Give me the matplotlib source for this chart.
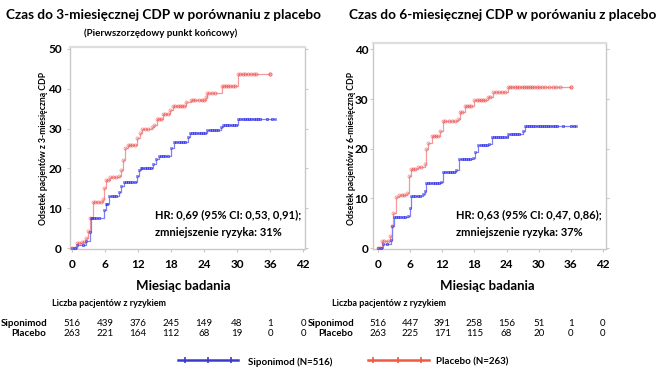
import numpy as np
import matplotlib
matplotlib.use("Agg")
import matplotlib.pyplot as plt
from matplotlib.lines import Line2D

plt.rcParams['font.family'] = ['Lato', 'DejaVu Sans']

# ---------------- data ----------------
# Left panel: 3-month CDP (step times in months, cumulative % with CDP)
l_sip_t = [0, 1.0, 2.5, 3.2, 3.4, 5.8, 6.1, 6.8, 8.5, 9.0, 9.4, 11.8, 12.2, 12.5, 14.8, 15.3, 15.8, 18.0, 18.6, 21.0, 21.4, 24.5, 27.0, 27.4, 30.2, 36.9]
l_sip_v = [0, 0.8, 1.8, 4.0, 7.6, 9.5, 11.0, 13.0, 14.0, 15.5, 16.5, 18.0, 19.5, 20.0, 21.0, 22.3, 23.0, 25.0, 26.7, 28.0, 29.0, 29.6, 30.5, 31.0, 32.5, 32.5]
l_pla_t = [0, 0.9, 1.8, 2.6, 3.0, 3.3, 3.8, 5.6, 5.9, 6.2, 7.0, 8.6, 9.0, 9.3, 9.7, 10.2, 11.9, 12.3, 12.7, 14.5, 14.9, 15.4, 16.5, 17.8, 18.4, 20.8, 21.6, 24.3, 24.6, 24.9, 27.2, 30.2, 36.0]
l_pla_v = [0, 1.2, 1.6, 2.5, 4.2, 7.5, 11.6, 12.2, 15.0, 17.2, 17.8, 18.2, 19.5, 22.0, 25.0, 25.9, 27.6, 29.0, 29.9, 30.5, 30.9, 32.5, 33.7, 34.6, 35.6, 36.6, 37.1, 38.0, 39.0, 39.0, 40.6, 43.8, 43.8]

# Right panel: 6-month CDP
r_sip_t = [0, 1.0, 2.5, 2.7, 3.0, 5.6, 5.9, 6.2, 8.4, 8.7, 9.0, 11.8, 12.1, 14.6, 15.1, 17.7, 18.2, 18.7, 20.8, 21.2, 24.3, 27.0, 27.4, 37.0]
r_sip_v = [0, 0.8, 1.6, 4.4, 6.3, 6.5, 8.0, 10.5, 10.8, 11.5, 13.0, 13.2, 15.3, 15.8, 18.0, 18.2, 19.3, 20.7, 21.0, 22.3, 23.0, 23.5, 24.5, 24.5]
r_pla_t = [0, 0.8, 2.2, 2.6, 2.8, 3.3, 4.0, 5.4, 5.8, 6.2, 7.5, 8.7, 9.0, 9.3, 10.0, 11.2, 11.5, 12.1, 15.0, 15.3, 16.2, 18.0, 20.5, 21.5, 24.3, 36.1]
r_pla_v = [0, 1.4, 2.5, 4.5, 7.0, 10.3, 10.7, 11.0, 14.6, 15.9, 16.3, 16.9, 19.9, 21.2, 22.5, 22.6, 23.6, 25.5, 26.0, 27.4, 28.6, 29.9, 30.5, 31.4, 32.5, 32.5]

# Censoring marks (months)
l_sip_c = [0.5, 2.0, 3.6, 4.0, 4.4, 5.0, 6.4, 7.2, 7.6, 8.0, 9.8, 10.2, 10.6, 11.0, 11.4, 12.8, 13.2, 13.6, 14.0, 14.4, 16.2, 16.6, 17.0, 17.4, 19.0, 19.4, 19.8, 20.2, 20.6, 21.8, 22.2, 22.6, 23.0, 23.4, 23.8, 24.2, 25.0, 25.4, 25.8, 26.2, 26.6, 27.8, 28.2, 28.6, 29.0, 29.4, 29.8, 30.6, 31.0, 31.4, 31.8, 32.2, 32.6, 33.0, 33.4, 33.8, 34.2, 35.5, 36.4]
l_pla_c = [0.5, 1.3, 2.2, 4.2, 4.8, 5.2, 6.6, 7.4, 8.0, 10.6, 11.0, 11.4, 13.2, 13.8, 15.8, 16.2, 17.0, 17.4, 18.8, 19.2, 19.6, 20.0, 20.4, 22.0, 22.4, 23.0, 23.6, 24.0, 25.4, 26.0, 27.6, 28.0, 28.4, 28.8, 29.2, 29.6, 30.6, 31.0, 31.5, 32.0, 32.6, 33.0, 33.5, 36.0]
r_sip_c = [0.5, 1.6, 3.3, 3.8, 4.2, 4.6, 5.0, 6.6, 7.0, 7.4, 7.8, 9.4, 9.8, 10.2, 10.6, 11.0, 11.4, 12.6, 13.0, 13.4, 13.8, 14.2, 15.6, 16.0, 16.4, 16.8, 17.2, 19.2, 19.6, 20.0, 20.4, 21.6, 22.0, 22.4, 22.8, 23.2, 23.6, 24.0, 24.8, 25.2, 25.6, 26.0, 26.4, 27.8, 28.2, 28.6, 29.0, 29.4, 29.8, 30.2, 30.6, 31.0, 31.4, 31.8, 32.2, 32.6, 33.0, 33.4, 34.5, 36.0, 36.6]
r_pla_c = [0.4, 1.2, 1.8, 4.4, 4.8, 6.6, 7.0, 8.0, 10.4, 10.8, 12.6, 13.2, 13.8, 14.4, 15.6, 16.6, 17.0, 17.4, 18.4, 18.8, 19.2, 19.6, 20.0, 21.0, 22.0, 22.6, 23.2, 23.8, 24.6, 25.0, 25.6, 26.0, 26.4, 26.8, 27.2, 27.6, 28.0, 28.4, 28.8, 29.2, 29.6, 30.0, 30.6, 31.2, 32.0, 32.6, 33.2, 34.0, 36.0]

x_ticks = [0, 6, 12, 18, 24, 30, 36, 42]
l_yticks = [0, 10, 20, 30, 40, 50]
r_yticks = [0, 10, 20, 30, 40]

l_risk_sip = ["516", "439", "376", "245", "149", "48", "1", "0"]
l_risk_pla = ["263", "221", "164", "112", "68", "19", "0", "0"]
r_risk_sip = ["516", "447", "391", "258", "156", "51", "1", "0"]
r_risk_pla = ["263", "225", "171", "115", "68", "20", "0", "0"]

titles = ["Czas do 3-miesięcznej CDP w porównaniu z placebo",
          "Czas do 6-miesięcznej CDP w porówaniu z placebo"]
ylabels = ["Odsetek pacjentów z 3-miesięczną CDP",
           "Odsetek pacjentów z 6-miesięczną CDP"]
hr_texts = [("HR: 0,69 (95% CI: 0,53, 0,91);", "zmniejszenie ryzyka: 31%"),
            ("HR: 0,63 (95% CI: 0,47, 0,86);", "zmniejszenie ryzyka: 37%")]

BLUE_L = '#8080f2'
BLUE_M = '#3030e8'
RED_L = '#f49a9a'
RED_M = '#f05050'

W, H = 663, 382
fig = plt.figure(figsize=(W / 100, H / 100), dpi=100)


def ax_rect(x0, x1, y0, y1):
    return [x0 / W, 1 - y1 / H, (x1 - x0) / W, (y1 - y0) / H]


def step_y(ts, vs, c):
    ts = np.asarray(ts); vs = np.asarray(vs)
    idx = np.searchsorted(ts, c, side='right') - 1
    return vs[np.clip(idx, 0, len(vs) - 1)]


def draw_panel(ax, st, sv, pt, pv, sc, pc, ylim, yticks, xlim, ypad):
    ax.step(pt, pv, where='post', color=RED_L, lw=0.9, zorder=3)
    ax.plot(pt, pv, ls='none', marker='o', ms=2.2, mfc='none', mec=RED_M, mew=0.6, alpha=0.6, zorder=4)
    ax.plot(pc, step_y(pt, pv, pc), ls='none', marker='o', ms=2.2, mfc='none', mec=RED_M, mew=0.6, alpha=0.75, zorder=4)
    ax.step(st, sv, where='post', color=BLUE_L, lw=0.9, zorder=3)
    ax.plot(st, sv, ls='none', marker='s', ms=2.0, mfc='none', mec=BLUE_M, mew=0.6, alpha=0.6, zorder=4)
    ax.plot(sc, step_y(st, sv, sc), ls='none', marker='s', ms=2.0, mfc='none', mec=BLUE_M, mew=0.6, alpha=0.8, zorder=4)
    ax.set_xlim(*xlim)
    ax.set_ylim(*ylim)
    ax.set_xticks(x_ticks)
    ax.set_yticks(yticks)
    for s in ax.spines.values():
        s.set_color('#c8c8c8')
        s.set_linewidth(1.0)
    ax.spines['top'].set_color('#dedede')
    ax.spines['top'].set_linewidth(1.6)
    ax.tick_params(axis='both', colors='#c8c8c8', labelcolor='black', length=2, width=0.8,
                   labelsize=8.5)
    ax.tick_params(axis='x', pad=5)
    ax.tick_params(axis='y', right=True, pad=ypad)
    for lab in ax.get_xticklabels() + ax.get_yticklabels():
        lab.set_fontweight('bold')


# left panel
axL = fig.add_axes(ax_rect(70, 305, 47, 249))
draw_panel(axL, l_sip_t, l_sip_v, l_pla_t, l_pla_v, l_sip_c, l_pla_c,
           (-0.25, 50.5), l_yticks, (-0.36, 42.36), 4)
# right panel
axR = fig.add_axes(ax_rect(373, 606, 43, 249))
draw_panel(axR, r_sip_t, r_sip_v, r_pla_t, r_pla_v, r_sip_c, r_pla_c,
           (-0.2, 41.3), r_yticks, (-0.93, 42.56), 1.5)


def ftext(x, y, s, **kw):
    fig.text(x / W, 1 - y / H, s, **kw)


# titles
ftext(164, 15, titles[0], ha='center', va='center', fontsize=9.8, fontweight='bold')
ftext(161, 33, "(Pierwszorzędowy punkt końcowy)", ha='center', va='center', fontsize=7, fontweight='bold')
ftext(503, 15, titles[1], ha='center', va='center', fontsize=9.8, fontweight='bold')

# y labels
ftext(44, 148, ylabels[0], ha='center', va='center', rotation=90, fontsize=6.2, fontweight='bold')
ftext(351, 148, ylabels[1], ha='center', va='center', rotation=90, fontsize=6.2, fontweight='bold')

# HR texts
for (x, (l1, l2)) in zip([155, 456], hr_texts):
    ftext(x, 215, l1, ha='left', va='center', fontsize=8, fontweight='bold')
    ftext(x, 233, l2, ha='left', va='center', fontsize=8, fontweight='bold')

# x axis labels
ftext(183, 286, "Miesiąc badania", ha='center', va='center', fontsize=9.5, fontweight='bold')
ftext(487, 286, "Miesiąc badania", ha='center', va='center', fontsize=9.5, fontweight='bold')

# at-risk tables
ftext(52, 303, "Liczba pacjentów z ryzykiem", ha='left', va='center', fontsize=6.5, fontweight='bold')
ftext(332, 303, "Liczba pacjentów z ryzykiem", ha='left', va='center', fontsize=6.5, fontweight='bold')

ftext(48, 323, "Siponimod", ha='right', va='center', fontsize=7, fontweight='bold')
ftext(46, 334, "Placebo", ha='right', va='center', fontsize=7, fontweight='bold')
ftext(355, 323, "Siponimod", ha='right', va='center', fontsize=7, fontweight='bold')
ftext(353, 334, "Placebo", ha='right', va='center', fontsize=7, fontweight='bold')

for ax, rs, rp in [(axL, l_risk_sip, l_risk_pla), (axR, r_risk_sip, r_risk_pla)]:
    for xv, a, b in zip(x_ticks, rs, rp):
        xd = ax.transData.transform((xv, 0))[0]
        xf = xd / W
        fig.text(xf, 1 - 323 / H, a, ha='center', va='center', fontsize=7)
        fig.text(xf, 1 - 334 / H, b, ha='center', va='center', fontsize=7)

# legend
lax = fig.add_axes([0, 0, 1, 1], facecolor='none')
lax.set_xlim(0, W)
lax.set_ylim(H, 0)
lax.axis('off')
lax.add_line(Line2D([178, 238], [360, 360], color='#3a3acc', lw=1.8))
lax.plot([185, 208, 231], [360, 360, 360], ls='none', marker='|', ms=5, mew=1.2, color='#3a3acc')
lax.add_line(Line2D([368, 429], [360, 360], color='#f05a40', lw=1.8))
lax.plot([373, 398, 421], [360, 360, 360], ls='none', marker='|', ms=5, mew=1.2, color='#f05a40')
ftext(248, 362, "Siponimod (N=516)", ha='left', va='center', fontsize=7, fontweight='bold')
ftext(436, 362, "Placebo (N=263)", ha='left', va='center', fontsize=7, fontweight='bold')

fig.savefig("out.png", dpi=100)
